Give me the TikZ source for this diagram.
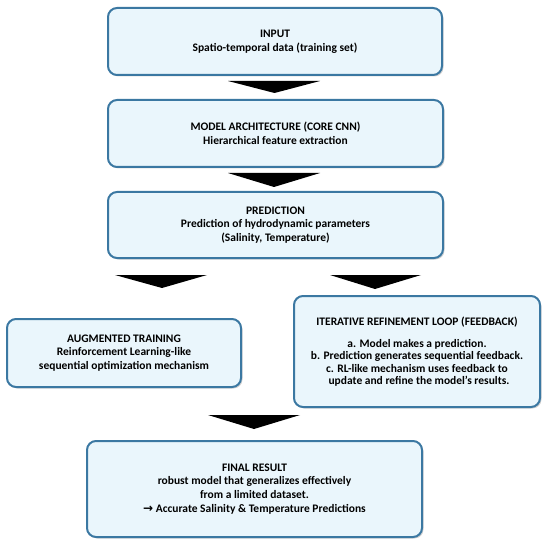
\documentclass[tikz,border=0pt]{standalone}
\usepackage{fontspec}
\setmainfont{Carlito}
\newfontfamily\flechafont{DejaVu Sans}
\usetikzlibrary{calc,shadows}

\definecolor{bordecaja}{HTML}{3B78A2}
\definecolor{fondocaja}{HTML}{EAF6FC}

\begin{document}
\begin{tikzpicture}[x=1pt,y=-1pt,
    caja/.style={draw=bordecaja, fill=fondocaja, line width=2pt, rounded corners=9pt,
      outer sep=0pt, align=center, font=\fontsize{11.5}{13.8}\selectfont\bfseries,
      drop shadow={shadow xshift=1.5pt, shadow yshift=-1.5pt, opacity=0.35, fill=gray}},
    flecha/.style={fill=black}]

      \useasboundingbox (0,0) rectangle (550,543);

      % Cajas principales
      \node[caja, minimum width=334pt, minimum height=67pt] (in) at (275,41.5)
        {INPUT\\Spatio-temporal data (training set)}; % Entrada
      \node[caja, minimum width=335pt, minimum height=67pt] (arq) at (275.5,133.5)
        {MODEL ARCHITECTURE (CORE CNN)\\Hierarchical feature extraction}; % Arquitectura
      \node[caja, minimum width=335pt, minimum height=66pt] (pred) at (275.5,225)
        {PREDICTION\\Prediction of hydrodynamic parameters\\(Salinity, Temperature)}; % Prediccion

      % Ramas
      \node[caja, minimum width=234pt, minimum height=68pt] (aug) at (124,353)
        {AUGMENTED TRAINING\\Reinforcement Learning-like\\sequential optimization mechanism}; % Entrenamiento
      \node[caja, minimum width=246pt, minimum height=111pt,
        font=\fontsize{11.5}{12.2}\selectfont\bfseries] (loop) at (417,351.5)
        {ITERATIVE REFINEMENT LOOP (FEEDBACK)\\[10pt]
         a. Model makes a prediction.\\
         b. Prediction generates sequential feedback.\\
         c. RL-like mechanism uses feedback to\\
         \hspace*{4pt}update and refine the model's results.}; % Lazo

      % Resultado
      \node[caja, minimum width=335pt, minimum height=96pt] (fin) at (254.5,489)
        {FINAL RESULT\\robust model that generalizes effectively\\from a limited dataset.\\
         {\flechafont\bfseries\fontsize{12}{13.8}\selectfont →} Accurate Salinity \& Temperature Predictions}; % Final

      % Flechas de bloque
      \fill[flecha] ([xshift=-47pt,yshift=-6pt]in.south) -- ++(92pt,0) -- ([xshift=-1pt,yshift=7pt]arq.north) -- cycle;
      \fill[flecha] ([xshift=-47.5pt,yshift=-6pt]arq.south) -- ++(92pt,0) -- ([xshift=-1.5pt,yshift=5pt]pred.north) -- cycle;
      \fill[flecha] ([xshift=-160.5pt,yshift=-17pt]pred.south) -- ++(92pt,0) -- ([xshift=38pt,yshift=31pt]aug.north) -- cycle;
      \fill[flecha] ([xshift=54.5pt,yshift=-17pt]pred.south) -- ++(91pt,0) -- ([xshift=-42pt,yshift=7pt]loop.north) -- cycle;
      \fill[flecha] ([xshift=-46.5pt,yshift=26pt]fin.north) -- ++(92pt,0) -- ([xshift=-0.5pt,yshift=12pt]fin.north) -- cycle;

    \end{tikzpicture}
\end{document}
